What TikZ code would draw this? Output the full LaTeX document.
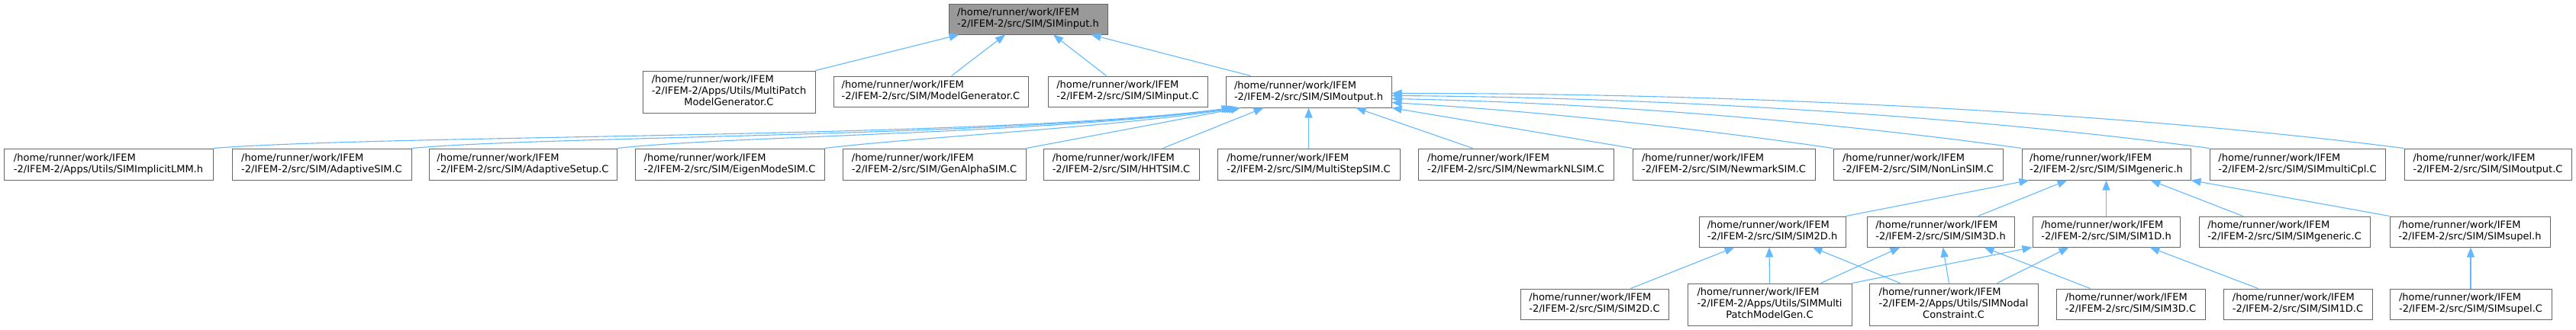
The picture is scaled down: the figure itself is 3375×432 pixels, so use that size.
\documentclass[tikz,border=0pt]{standalone}
\usepackage{fontspec}
\setmainfont{DejaVu Sans}
\usetikzlibrary{arrows.meta}
\definecolor{edgec}{HTML}{63B8FF}
\definecolor{boxline}{HTML}{666666}
\definecolor{rootfill}{HTML}{999999}
\newcommand{\twol}[2]{\begin{tabular}{@{}l@{}}#1\\#2\end{tabular}}
\newcommand{\threel}[3]{\begin{tabular}{@{}l@{}}#1\\#2\\\multicolumn{1}{@{}c@{}}{#3}\end{tabular}}
\newcommand{\bx}[7][box]{\node[#1, minimum width={#5-#3}, minimum height={#6-#4}] (#2) at ({(#3+#5)/2},{(#4+#6)/2}) {#7};}
\tikzset{
  box/.style={draw=boxline, fill=white, line width=1pt, inner sep=1pt, font=\fontsize{13}{15}\selectfont},
  rootbox/.style={box, fill=rootfill},
  dep/.style={draw=edgec, line width=1.1pt, -{Triangle[length=13pt,width=10pt]}}
}
\begin{document}
\begin{tikzpicture}[x=1pt,y=-1pt]
\useasboundingbox (0,0) rectangle (3375,432);
% row 0
\bx[rootbox]{inputh}{1243}{5}{1451}{45}{\twol{/home/runner/work/IFEM}{-2/IFEM-2/src/SIM/SIMinput.h}}
% row 1
\bx{mpmg}{842}{93}{1068}{148}{\threel{/home/runner/work/IFEM}{-2/IFEM-2/Apps/Utils/MultiPatch}{ModelGenerator.C}}
\bx{modelgen}{1092}{100}{1347}{140}{\twol{/home/runner/work/IFEM}{-2/IFEM-2/src/SIM/ModelGenerator.C}}
\bx{inputc}{1373}{100}{1582}{140}{\twol{/home/runner/work/IFEM}{-2/IFEM-2/src/SIM/SIMinput.C}}
\bx{outh}{1606}{100}{1823}{141}{\twol{/home/runner/work/IFEM}{-2/IFEM-2/src/SIM/SIMoutput.h}}
% row 2
\bx{lmm}{5}{195}{279}{236}{\twol{/home/runner/work/IFEM}{-2/IFEM-2/Apps/Utils/SIMImplicitLMM.h}}
\bx{adsim}{304}{195}{539}{236}{\twol{/home/runner/work/IFEM}{-2/IFEM-2/src/SIM/AdaptiveSIM.C}}
\bx{adsetup}{562}{195}{808}{236}{\twol{/home/runner/work/IFEM}{-2/IFEM-2/src/SIM/AdaptiveSetup.C}}
\bx{eigen}{832}{195}{1080}{236}{\twol{/home/runner/work/IFEM}{-2/IFEM-2/src/SIM/EigenModeSIM.C}}
\bx{genalpha}{1104}{195}{1344}{236}{\twol{/home/runner/work/IFEM}{-2/IFEM-2/src/SIM/GenAlphaSIM.C}}
\bx{hht}{1367}{195}{1571}{236}{\twol{/home/runner/work/IFEM}{-2/IFEM-2/src/SIM/HHTSIM.C}}
\bx{multistep}{1595}{195}{1834}{236}{\twol{/home/runner/work/IFEM}{-2/IFEM-2/src/SIM/MultiStepSIM.C}}
\bx{nmnl}{1858}{195}{2114}{236}{\twol{/home/runner/work/IFEM}{-2/IFEM-2/src/SIM/NewmarkNLSIM.C}}
\bx{nm}{2139}{195}{2378}{236}{\twol{/home/runner/work/IFEM}{-2/IFEM-2/src/SIM/NewmarkSIM.C}}
\bx{nonlin}{2402}{195}{2624}{236}{\twol{/home/runner/work/IFEM}{-2/IFEM-2/src/SIM/NonLinSIM.C}}
\bx{generich}{2649}{195}{2870}{236}{\twol{/home/runner/work/IFEM}{-2/IFEM-2/src/SIM/SIMgeneric.h}}
\bx{multicpl}{2895}{195}{3125}{236}{\twol{/home/runner/work/IFEM}{-2/IFEM-2/src/SIM/SIMmultiCpl.C}}
\bx{outc}{3150}{195}{3369}{236}{\twol{/home/runner/work/IFEM}{-2/IFEM-2/src/SIM/SIMoutput.C}}
% row 3
\bx{sim2dh}{2226}{284}{2418}{324}{\twol{/home/runner/work/IFEM}{-2/IFEM-2/src/SIM/SIM2D.h}}
\bx{sim3dh}{2446}{284}{2639}{324}{\twol{/home/runner/work/IFEM}{-2/IFEM-2/src/SIM/SIM3D.h}}
\bx{sim1dh}{2663}{284}{2856}{324}{\twol{/home/runner/work/IFEM}{-2/IFEM-2/src/SIM/SIM1D.h}}
\bx{genericc}{2881}{284}{3105}{324}{\twol{/home/runner/work/IFEM}{-2/IFEM-2/src/SIM/SIMgeneric.C}}
\bx{supelh}{3131}{284}{3341}{324}{\twol{/home/runner/work/IFEM}{-2/IFEM-2/src/SIM/SIMsupel.h}}
% row 4
\bx{sim2dc}{1992}{379}{2186}{419}{\twol{/home/runner/work/IFEM}{-2/IFEM-2/src/SIM/SIM2D.C}}
\bx{smpmg}{2211}{372}{2426}{427}{\threel{/home/runner/work/IFEM}{-2/IFEM-2/Apps/Utils/SIMMulti}{PatchModelGen.C}}
\bx{snodal}{2449}{372}{2670}{427}{\threel{/home/runner/work/IFEM}{-2/IFEM-2/Apps/Utils/SIMNodal}{Constraint.C}}
\bx{sim3dc}{2694}{379}{2889}{419}{\twol{/home/runner/work/IFEM}{-2/IFEM-2/src/SIM/SIM3D.C}}
\bx{sim1dc}{2913}{379}{3108}{419}{\twol{/home/runner/work/IFEM}{-2/IFEM-2/src/SIM/SIM1D.C}}
\bx{supelc}{3131}{379}{3343}{419}{\twol{/home/runner/work/IFEM}{-2/IFEM-2/src/SIM/SIMsupel.C}}
% edges row 1 -> root
\draw[dep] (mpmg.north east) -- ([xshift=14pt]inputh.south west);
\draw[dep] ([xshift=27pt]modelgen.north) -- ([xshift=-30pt]inputh.south);
\draw[dep] ([xshift=-28pt]inputc.north) -- ([xshift=33pt]inputh.south);
\draw[dep] ([xshift=33pt]outh.north west) -- ([xshift=-22pt]inputh.south east);
% edges row 2 -> SIMoutput.h
\draw[dep] (lmm.north east) .. controls (520,176) and (1300,182) .. ([xshift=8pt]outh.south west);
\draw[dep] (adsim.north east) .. controls (720,178) and (1320,180) .. ([xshift=11pt]outh.south west);
\draw[dep] (adsetup.north east) .. controls (960,178) and (1360,176) .. ([xshift=14pt]outh.south west);
\draw[dep] (eigen.north east) .. controls (1200,180) and (1450,168) .. ([xshift=17pt]outh.south west);
\draw[dep] (genalpha.north east) -- ([xshift=20pt]outh.south west);
\draw[dep] ([xshift=-48pt]hht.north east) -- ([xshift=50pt]outh.south west);
\draw[dep] (multistep.north) -- (outh.south);
\draw[dep] ([xshift=72pt]nmnl.north west) -- ([xshift=62pt]outh.south);
\draw[dep] (nm.north west) -- (outh.south east);
\draw[dep] (nonlin.north west) .. controls (2200,165) and (2000,145) .. ([yshift=7pt]outh.south east);
\draw[dep] (generich.north west) .. controls (2400,160) and (2100,135) .. ([yshift=12pt]outh.south east);
\draw[dep] (multicpl.north west) .. controls (2600,155) and (2200,128) .. ([yshift=16pt]outh.south east);
\draw[dep] (outc.north west) .. controls (2800,150) and (2300,122) .. ([yshift=19pt]outh.south east);
% edges row 3 -> SIMgeneric.h
\draw[dep] (sim2dh.north east) -- ([xshift=10pt]generich.south west);
\draw[dep] ([xshift=-48pt]sim3dh.north east) -- ([xshift=60pt]generich.south west);
\draw[dep] (sim1dh.north) -- (generich.south);
\draw[dep] ([xshift=58pt]genericc.north west) -- ([xshift=-53pt]generich.south east);
\draw[dep] (supelh.north west) -- (generich.south east);
% edges row 4 -> row 3
\draw[dep] ([xshift=-50pt]sim2dc.north east) -- ([xshift=47pt]sim2dh.south west);
\draw[dep] (smpmg.north) -- ([xshift=-4pt]sim2dh.south);
\draw[dep] ([xshift=41pt]snodal.north west) -- ([xshift=-44pt]sim2dh.south east);
\draw[dep] ([xshift=-41pt]smpmg.north east) -- ([xshift=44pt]sim3dh.south west);
\draw[dep] ([xshift=-6pt]snodal.north) -- ([xshift=3pt]sim3dh.south);
\draw[dep] ([xshift=45pt]sim3dc.north west) -- ([xshift=-40pt]sim3dh.south east);
\draw[dep] (smpmg.north east) -- (sim1dh.south west);
\draw[dep] ([xshift=-54pt]snodal.north east) -- ([xshift=48pt]sim1dh.south west);
\draw[dep] ([xshift=46pt]sim1dc.north west) -- ([xshift=-40pt]sim1dh.south east);
\draw[dep] (supelc.north) -- (supelc.north |- supelh.south);
\end{tikzpicture}
\end{document}
